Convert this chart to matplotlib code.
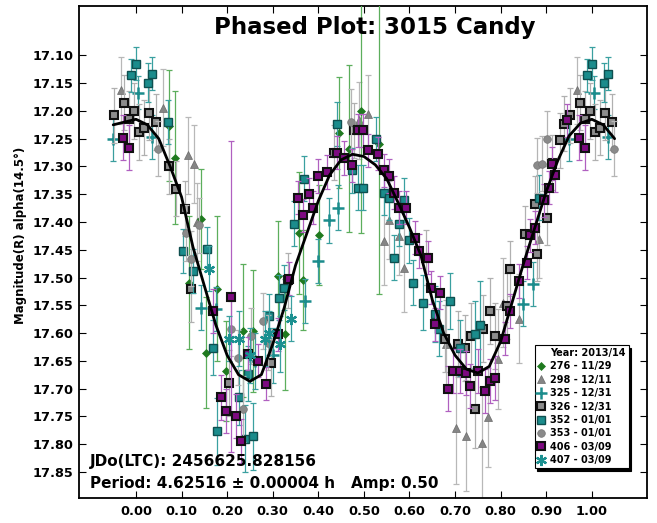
import matplotlib
matplotlib.use('Agg')
import matplotlib.pyplot as plt
from matplotlib.lines import Line2D
import numpy as np

plt.rcParams['font.family'] = ['DejaVu Sans']
plt.rcParams['font.weight'] = 'bold'

# ---------------- data (phase, magnitude, error) ----------------
s276_phase = [0.072, 0.085, 0.117, 0.143, 0.154, 0.178, 0.198, 0.235, 0.257, 0.312, 0.326, 0.358, 0.367, 0.402, 0.446, 0.468, 0.493, 0.533]
s276_mag = [17.227, 17.284, 17.509, 17.394, 17.635, 17.52, 17.668, 17.596, 17.596, 17.498, 17.602, 17.42, 17.505, 17.423, 17.239, 17.268, 17.20, 17.26]
s276_err = [0.10, 0.12, 0.12, 0.09, 0.10, 0.13, 0.09, 0.12, 0.11, 0.10, 0.10, 0.11, 0.09, 0.09, 0.10, 0.15, 0.22, 0.27]

s298_phase = [0.967, 0.059, 0.114, 0.127, 0.134, 0.49, 0.51, 0.545, 0.556, 0.578, 0.589, 0.681, 0.703, 0.725, 0.758, 0.773, 0.795, 0.806, 0.84, 0.884]
s298_mag = [17.163, 17.194, 17.28, 17.295, 17.40, 17.217, 17.205, 17.434, 17.397, 17.425, 17.482, 17.62, 17.771, 17.785, 17.798, 17.752, 17.647, 17.545, 17.574, 17.43]
s298_err = [0.06, 0.07, 0.07, 0.07, 0.07, 0.07, 0.07, 0.08, 0.07, 0.07, 0.08, 0.08, 0.10, 0.10, 0.10, 0.09, 0.09, 0.08, 0.08, 0.07]

s325_phase = [0.005, 0.036, 0.95, 0.143, 0.176, 0.26, 0.30, 0.37, 0.40, 0.424, 0.444, 0.85, 0.872]
s325_mag = [17.167, 17.247, 17.25, 17.554, 17.557, 17.65, 17.64, 17.542, 17.47, 17.397, 17.374, 17.547, 17.512]
s325_err = [0.03, 0.04, 0.04, 0.04, 0.04, 0.05, 0.05, 0.04, 0.04, 0.04, 0.04, 0.04, 0.04]

s326_phase = [0.007, 0.018, 0.029, 0.044, 0.073, 0.088, 0.108, 0.121, 0.204, 0.297, 0.334, 0.435, 0.479, 0.637, 0.677, 0.707, 0.721, 0.736, 0.743, 0.762, 0.776, 0.787, 0.813, 0.82, 0.853, 0.875, 0.879, 0.901, 0.912, 0.93, 0.938, 0.952, 0.974, 0.985, 0.996]
s326_mag = [17.238, 17.23, 17.203, 17.22, 17.30, 17.34, 17.376, 17.52, 17.69, 17.653, 17.505, 17.275, 17.235, 17.464, 17.61, 17.62, 17.627, 17.605, 17.737, 17.592, 17.56, 17.605, 17.551, 17.484, 17.421, 17.367, 17.457, 17.392, 17.293, 17.253, 17.223, 17.208, 17.185, 17.214, 17.2]
s326_err = [0.05, 0.05, 0.05, 0.05, 0.05, 0.05, 0.05, 0.06, 0.06, 0.06, 0.05, 0.05, 0.05, 0.05, 0.06, 0.06, 0.06, 0.06, 0.07, 0.06, 0.06, 0.06, 0.06, 0.05, 0.05, 0.05, 0.05, 0.05, 0.05, 0.05, 0.05, 0.05, 0.05, 0.05, 0.05]

s352_phase = [0.000, 0.026, 0.035, 0.070, 0.103, 0.125, 0.156, 0.169, 0.178, 0.226, 0.239, 0.246, 0.257, 0.292, 0.314, 0.325, 0.347, 0.369, 0.440, 0.473, 0.488, 0.499, 0.527, 0.543, 0.554, 0.567, 0.576, 0.589, 0.598, 0.608, 0.630, 0.655, 0.664, 0.688, 0.710, 0.743, 0.754, 0.884, 0.990]
s352_mag = [17.115, 17.149, 17.133, 17.22, 17.452, 17.488, 17.449, 17.626, 17.777, 17.716, 17.79, 17.673, 17.786, 17.569, 17.536, 17.518, 17.403, 17.322, 17.223, 17.307, 17.338, 17.338, 17.25, 17.347, 17.356, 17.464, 17.403, 17.36, 17.433, 17.509, 17.545, 17.566, 17.592, 17.542, 17.627, 17.602, 17.586, 17.356, 17.136]
s352_err = [0.03, 0.035, 0.03, 0.04, 0.04, 0.04, 0.04, 0.05, 0.06, 0.05, 0.06, 0.05, 0.06, 0.04, 0.04, 0.04, 0.04, 0.04, 0.04, 0.04, 0.04, 0.04, 0.04, 0.04, 0.04, 0.04, 0.04, 0.04, 0.04, 0.04, 0.05, 0.05, 0.05, 0.05, 0.05, 0.06, 0.08, 0.04, 0.03]

s353_phase = [0.048, 0.110, 0.121, 0.139, 0.209, 0.224, 0.235, 0.253, 0.279, 0.290, 0.472, 0.879, 0.890, 0.901]
s353_mag = [17.268, 17.42, 17.466, 17.406, 17.592, 17.644, 17.737, 17.605, 17.578, 17.617, 17.22, 17.298, 17.295, 17.25]
s353_err = [0.05, 0.05, 0.05, 0.05, 0.05, 0.05, 0.06, 0.05, 0.05, 0.05, 0.06, 0.05, 0.05, 0.05]

s406_phase = [0.169, 0.187, 0.198, 0.208, 0.220, 0.231, 0.246, 0.268, 0.286, 0.312, 0.336, 0.356, 0.367, 0.380, 0.389, 0.400, 0.418, 0.440, 0.457, 0.473, 0.488, 0.499, 0.510, 0.532, 0.545, 0.554, 0.565, 0.576, 0.593, 0.611, 0.620, 0.641, 0.648, 0.655, 0.666, 0.685, 0.696, 0.710, 0.725, 0.732, 0.751, 0.765, 0.776, 0.787, 0.809, 0.820, 0.840, 0.857, 0.864, 0.875, 0.894, 0.905, 0.912, 0.919, 0.945, 0.971, 0.985]
s406_mag = [17.56, 17.716, 17.74, 17.535, 17.749, 17.794, 17.637, 17.65, 17.691, 17.602, 17.502, 17.356, 17.388, 17.35, 17.374, 17.317, 17.31, 17.275, 17.285, 17.298, 17.235, 17.235, 17.271, 17.277, 17.307, 17.317, 17.347, 17.374, 17.374, 17.428, 17.452, 17.464, 17.518, 17.584, 17.527, 17.70, 17.668, 17.668, 17.672, 17.695, 17.668, 17.704, 17.686, 17.681, 17.61, 17.56, 17.506, 17.473, 17.424, 17.41, 17.361, 17.338, 17.295, 17.316, 17.217, 17.248, 17.266]
s406_err = [0.04, 0.04, 0.04, 0.28, 0.04, 0.04, 0.03, 0.03, 0.03, 0.03, 0.03, 0.03, 0.03, 0.03, 0.03, 0.03, 0.03, 0.03, 0.03, 0.03, 0.03, 0.03, 0.03, 0.03, 0.03, 0.03, 0.03, 0.03, 0.03, 0.03, 0.03, 0.03, 0.03, 0.03, 0.03, 0.04, 0.04, 0.04, 0.04, 0.04, 0.04, 0.04, 0.04, 0.04, 0.03, 0.03, 0.03, 0.03, 0.03, 0.03, 0.03, 0.03, 0.03, 0.03, 0.03, 0.04, 0.04]

s407_phase = [0.161, 0.205, 0.227, 0.250, 0.282, 0.292, 0.315, 0.340]
s407_mag = [17.484, 17.61, 17.61, 17.64, 17.61, 17.60, 17.62, 17.574]
s407_err = [0.04, 0.04, 0.05, 0.05, 0.05, 0.04, 0.05, 0.04]

# Fourier fit curve
fit_phase = [-0.05, 0.0, 0.025, 0.05, 0.075, 0.10, 0.125, 0.15, 0.175, 0.20, 0.225, 0.25, 0.275, 0.30, 0.325, 0.35, 0.375, 0.40, 0.425, 0.45, 0.475, 0.50, 0.525, 0.55, 0.575, 0.60, 0.625, 0.65, 0.675, 0.70, 0.725, 0.75, 0.775, 0.80, 0.825, 0.85, 0.875, 0.90, 0.925, 0.95, 0.975, 1.00, 1.025, 1.05]
fit_mag = [17.225, 17.215, 17.225, 17.25, 17.30, 17.355, 17.445, 17.515, 17.585, 17.64, 17.675, 17.687, 17.675, 17.62, 17.555, 17.478, 17.42, 17.362, 17.315, 17.288, 17.278, 17.282, 17.297, 17.322, 17.365, 17.41, 17.46, 17.54, 17.60, 17.64, 17.665, 17.672, 17.66, 17.615, 17.545, 17.475, 17.41, 17.345, 17.29, 17.245, 17.222, 17.215, 17.225, 17.25]

legend_labels = ['276 - 11/29', '298 - 12/11', '325 - 12/31', '326 - 12/31',
                 '352 - 01/01', '353 - 01/01', '406 - 03/09', '407 - 03/09']
x_ticks = [0.0, 0.1, 0.2, 0.3, 0.4, 0.5, 0.6, 0.7, 0.8, 0.9, 1.0]
y_ticks = [17.10, 17.15, 17.20, 17.25, 17.30, 17.35, 17.40, 17.45, 17.50, 17.55, 17.60, 17.65, 17.70, 17.75, 17.80, 17.85]

# ---------------- styles ----------------
series = [
    (s276_phase, s276_mag, s276_err, dict(marker='D', ms=4.3, mfc='#1f7a1f', mec='#1f7a1f', mew=0.5), '#5cae5c', 3),
    (s298_phase, s298_mag, s298_err, dict(marker='^', ms=6.2, mfc='#858585', mec='#6a6a6a', mew=0.5), '#b8b8b8', 2),
    (s325_phase, s325_mag, s325_err, dict(marker='+', ms=8, mfc='#1b8c8c', mec='#1b8c8c', mew=1.8), '#3a9e9e', 4),
    (s326_phase, s326_mag, s326_err, dict(marker='s', ms=6, mfc='#8c8c8c', mec='#111111', mew=1.5), '#b0b0b0', 5),
    (s352_phase, s352_mag, s352_err, dict(marker='s', ms=6, mfc='#1b8c8c', mec='#0f4f4f', mew=1.0), '#3aa0a0', 6),
    (s353_phase, s353_mag, s353_err, dict(marker='o', ms=5.5, mfc='#8a8a8a', mec='#777777', mew=0.5), '#b5b5b5', 7),
    (s406_phase, s406_mag, s406_err, dict(marker='s', ms=6, mfc='#7d0a80', mec='#111111', mew=1.5), '#b060c0', 8),
    (s407_phase, s407_mag, s407_err, dict(marker=(6, 2, 0), ms=8, mfc='#1b9090', mec='#1b9090', mew=1.6), '#3aa0a0', 9),
]


def wrap(p, m, e):
    p = np.asarray(p, float); m = np.asarray(m, float); e = np.asarray(e, float)
    lo = p < 0.055
    hi = p > 0.945
    P = np.concatenate([p, p[lo] + 1.0, p[hi] - 1.0])
    M = np.concatenate([m, m[lo], m[hi]])
    E = np.concatenate([e, e[lo], e[hi]])
    return P, M, E


fig = plt.figure(figsize=(6.57, 5.23), dpi=100)
ax = fig.add_axes([79 / 657, 25 / 523, 568 / 657, 492 / 523])

handles = []
for (p, m, e, st, ecol, z) in series:
    P, M, E = wrap(p, m, e)
    ax.errorbar(P, M, yerr=E, fmt='none', ecolor=ecol, elinewidth=0.9,
                capsize=2, capthick=0.9, zorder=z)
    ax.plot(P, M, ls='none', zorder=z + 0.5, **st)
    handles.append(Line2D([], [], ls='none', **st))

ax.plot(fit_phase, fit_mag, color='black', lw=2, zorder=20, solid_capstyle='round')

ax.set_xlim(-0.125, 1.121)
ax.set_ylim(17.897, 17.011)
ax.set_xticks(x_ticks)
ax.set_xticklabels(['%.2f' % v for v in x_ticks])
ax.set_yticks(y_ticks)
ax.set_yticklabels(['%.2f' % v for v in y_ticks])
ax.tick_params(direction='in', length=5, width=0.8, top=True, right=True,
               labelsize=9.3, pad=5)
ax.tick_params(axis='y', pad=4)
for lab in ax.get_xticklabels() + ax.get_yticklabels():
    lab.set_fontweight('bold')
for sp in ax.spines.values():
    sp.set_linewidth(1.3)

fig.text(21 / 657, 1 - 235 / 523, 'Magnitude(R) alpha(14.5°)', rotation=90,
         ha='center', va='center', fontsize=8.5, fontweight='bold')

ax.text(0.521, 0.943, 'Phased Plot: 3015 Candy', transform=ax.transAxes,
        ha='center', va='baseline', fontsize=16.5, fontweight='bold')
ax.text(0.019, 0.065, 'JDo(LTC): 2456625.828156', transform=ax.transAxes,
        ha='left', va='baseline', fontsize=11, fontweight='bold', zorder=30)
ax.text(0.019, 0.020, 'Period: 4.62516 ± 0.00004 h', transform=ax.transAxes,
        ha='left', va='baseline', fontsize=11, fontweight='bold', zorder=30)
ax.text(0.479, 0.020, 'Amp: 0.50', transform=ax.transAxes,
        ha='left', va='baseline', fontsize=11, fontweight='bold', zorder=30)

title_handle = Line2D([], [], ls='none', marker='none')
leg = ax.legend([title_handle] + handles, ['Year: 2013/14'] + legend_labels,
                loc='upper left', bbox_to_anchor=(0.802, 0.311),
                prop={'size': 7, 'weight': 'bold'}, frameon=True, fancybox=False,
                shadow={'facecolor': 'black', 'edgecolor': 'black', 'alpha': 1.0},
                handlelength=0.8, handletextpad=0.5, borderpad=0.3,
                labelspacing=0.35, borderaxespad=0, numpoints=1)
leg.get_frame().set_edgecolor('black')
leg.get_frame().set_linewidth(0.8)
leg.set_zorder(40)

fig.savefig('out.png', dpi=100)
